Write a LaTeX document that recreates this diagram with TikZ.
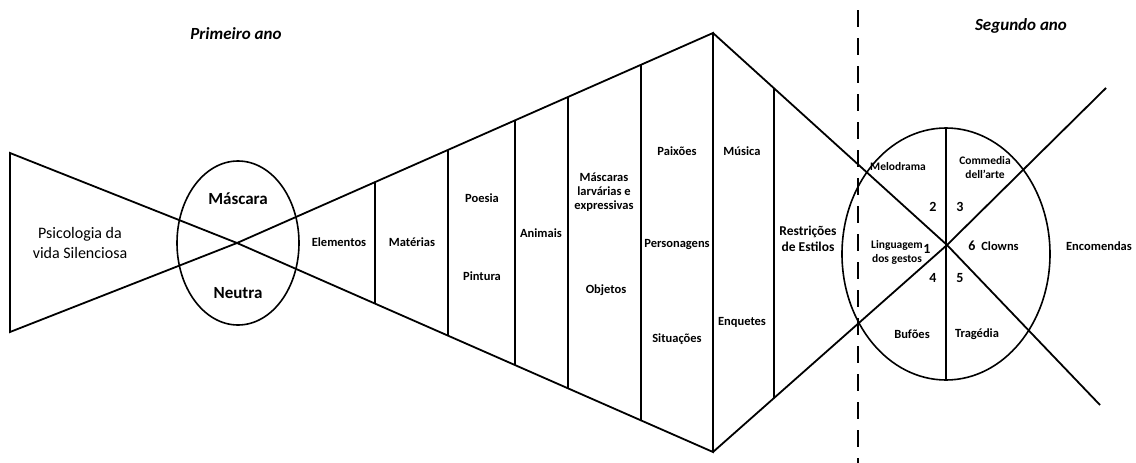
\documentclass[tikz,border=0pt]{standalone}
\usepackage{fontspec}
\setmainfont{Carlito}
\usetikzlibrary{calc,shapes.geometric}

\tikzset{
  edge/.style={line width=1.8pt, line join=miter},
  ring/.style={draw, ellipse, line width=1.6pt, inner sep=0pt},
  lbl/.style={font=\bfseries\fontsize{12.5}{14}\selectfont, align=center, inner sep=1pt},
  inlbl/.style={font=\bfseries\fontsize{11.5}{14}\selectfont, align=center, inner sep=1pt},
  midlbl/.style={font=\bfseries\fontsize{13.5}{16}\selectfont, align=center, inner sep=1pt},
  biglbl/.style={font=\bfseries\fontsize{17}{19}\selectfont, align=center, inner sep=1pt},
  yearlbl/.style={font=\bfseries\itshape\fontsize{17}{19}\selectfont, inner sep=1pt},
  numlbl/.style={font=\bfseries\fontsize{14}{15}\selectfont, inner sep=1pt},
}

\begin{document}
\begin{tikzpicture}[x=1pt,y=-1pt]
  \useasboundingbox (0,0) rectangle (1136,463);
  % key points of the fan
  \coordinate (lt) at (10,153);
  \coordinate (lb) at (10,332);
  \coordinate (xl) at (237,243);
  \coordinate (apT) at (713,33);
  \coordinate (apB) at (713,452);
  \coordinate (xr) at (947,245);
  \coordinate (endD) at (1100,405);
  \coordinate (endU) at (1106,88);
  \coordinate (dashT) at (858,10);
  \coordinate (dashB) at (858,463);

  % ellipses
  \node[ring, minimum width=122pt, minimum height=164pt] (maskE) at (238,243) {};
  \node[ring, minimum width=208pt, minimum height=252pt] (yearE) at (946,254) {};
  \draw[line width=1.4pt] (yearE.north) -- (yearE.south);

  % fan and crossing lines
  \draw[edge] (lt) -- (lb) -- (xl) -- (apT) -- (apB) -- (xl) -- cycle;
  \draw[edge] (apT) -- (xr) -- (endD);
  \draw[edge] (apB) -- (xr) -- (endU);
  \foreach \x in {375,448,515,568,641}
    \draw[edge] ($(xl)!{(\x-237)/476}!(apT)$) -- ($(xl)!{(\x-237)/476}!(apB)$);
  \draw[edge] ($(apT)!{61/234}!(xr)$) -- ($(apB)!{61/234}!(xr)$);

  % year boundary
  \draw[line width=2.6pt, dash pattern=on 17pt off 11pt] (dashT) -- (dashB);

  % labels
  \node[yearlbl] (first) at (236,34) {Primeiro ano};
  \node[yearlbl] (second) at (1021,26) {Segundo ano};
  \node[font=\fontsize{16}{20}\selectfont, align=center] (psico) at (80,243) {Psicologia da\\vida Silenciosa};
  \node[biglbl] (masc) at (238,199) {Máscara};
  \node[biglbl] (neutra) at (238,293) {Neutra};
  \node[lbl] (elem) at (339,242) {Elementos};
  \node[lbl] (mater) at (412,242) {Matérias};
  \node[lbl] (poesia) at (482,198) {Poesia};
  \node[lbl] (pint) at (482,276) {Pintura};
  \node[lbl] (anim) at (541,233) {Animais};
  \node[lbl] (mlarv) at (604,192) {Máscaras\\larvárias e\\expressivas};
  \node[lbl] (obj) at (606,290) {Objetos};
  \node[lbl] (paix) at (677,151) {Paixões};
  \node[lbl] (pers) at (677,245) {Personagens};
  \node[lbl] (sit) at (677,339) {Situações};
  \node[lbl] (mus) at (742,151) {Música};
  \node[lbl] (enq) at (742,322) {Enquetes};
  \node[midlbl] (restr) at (808,239) {Restrições\\de Estilos};
  \node[inlbl] (melo) at (898,167) {Melodrama};
  \node[inlbl] (comm) at (985,168) {Commedia\\dell'arte};
  \node[inlbl] (ling) at (897,252) {Linguagem\\dos gestos};
  \node[lbl] (clown) at (1000,246) {Clowns};
  \node[lbl] (bufo) at (912,334) {Bufões};
  \node[lbl] (trag) at (977,334) {Tragédia};
  \node[lbl] (enc) at (1099,246) {Encomendas};
  \node[numlbl] (n1) at (927,249) {1};
  \node[numlbl] (n2) at (933,207) {2};
  \node[numlbl] (n3) at (960,207) {3};
  \node[numlbl] (n4) at (933,278) {4};
  \node[numlbl] (n5) at (960,278) {5};
  \node[numlbl] (n6) at (972,246) {6};
\end{tikzpicture}
\end{document}
